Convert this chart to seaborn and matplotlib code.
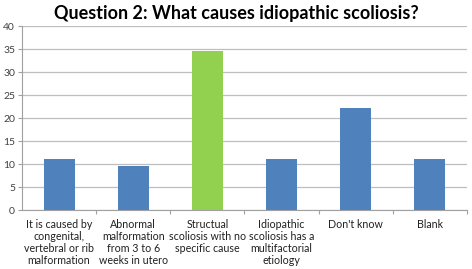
import matplotlib
matplotlib.use("Agg")
import matplotlib.pyplot as plt
import seaborn as sns
import pandas as pd
from matplotlib.ticker import FixedLocator

categories = [
    "It is caused by\ncongenital,\nvertebral or rib\nmalformation",
    "Abnormal\nmalformation\nfrom 3 to 6\nweeks in utero",
    "Structual\nscoliosis with no\nspecific cause",
    "Idiopathic\nscoliosis has a\nmultifactorial\netiology",
    "Don't know",
    "Blank",
]
values = [11.1, 9.7, 34.7, 11.1, 22.2, 11.1]
colors = ["#4F81BD", "#4F81BD", "#92D050", "#4F81BD", "#4F81BD", "#4F81BD"]
yticks = [0, 5, 10, 15, 20, 25, 30, 35, 40]
title = "Question 2: What causes idiopathic scoliosis?"

sns.set_theme(style="white")
plt.rcParams['font.family'] = ['Lato', 'DejaVu Sans']

df = pd.DataFrame({"cat": categories, "val": values})

fig = plt.figure(figsize=(4.72, 2.69), dpi=100)
ax = fig.add_axes([22/472, 1 - 210.3/269, (467 - 22)/472, (210.3 - 26.3)/269])

sns.barplot(data=df, x="cat", y="val", hue="cat", palette=colors, legend=False,
            width=0.42, ax=ax, saturation=1, edgecolor="none")

ax.set_ylim(0, 40)
ax.set_xlim(-0.5, 5.5)
ax.set_yticks(yticks)
ax.set_yticklabels([str(v) for v in yticks], fontsize=7.5, color="#404040")
ax.yaxis.grid(True, color="#BEBEBE", linewidth=0.9)
ax.set_axisbelow(True)
ax.set_xlabel("")
ax.set_ylabel("")
ax.tick_params(axis="x", which="major", length=0, pad=6, labelsize=7.7, labelcolor="#202020")
ax.xaxis.set_minor_locator(FixedLocator([0.5, 1.5, 2.5, 3.5, 4.5, 5.5]))
ax.tick_params(axis="x", which="minor", length=3, color="#A0A0A0", width=0.8, bottom=True)
ax.tick_params(axis="y", length=3, color="#A0A0A0", width=0.8, left=True, pad=2)
for lab in ax.get_xticklabels():
    lab.set_linespacing(1.13)

for s in ["top", "right"]:
    ax.spines[s].set_visible(False)
for s in ["left", "bottom"]:
    ax.spines[s].set_color("#A0A0A0")
    ax.spines[s].set_linewidth(0.8)

fig.text(0.5, 1 - 14/269, title, ha="center", va="center", fontsize=13, fontweight="bold", color="#000000")

fig.savefig("out.png", dpi=100)
